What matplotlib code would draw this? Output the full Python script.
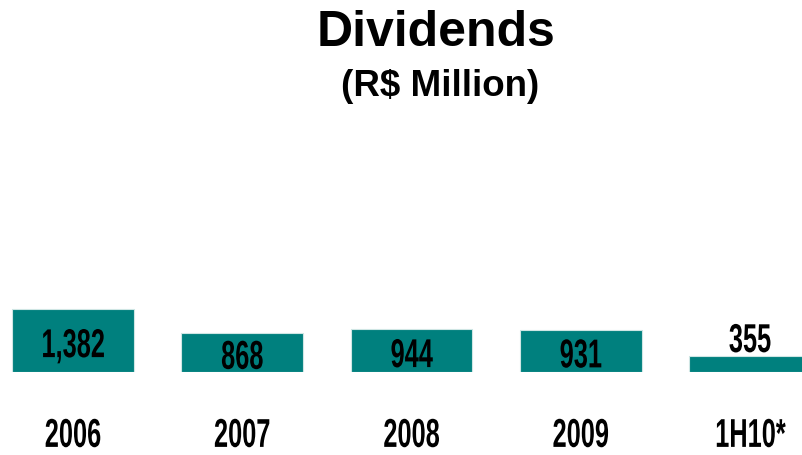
import matplotlib.pyplot as plt
from matplotlib.patheffects import AbstractPathEffect
from matplotlib.transforms import Affine2D

periods = ['2006', '2007', '2008', '2009', '1H10*']
dividends = [1382, 868, 944, 931, 355]


class Squeeze(AbstractPathEffect):
    """Draw text horizontally condensed around its own centre."""

    def __init__(self, sx):
        super().__init__()
        self.sx = sx

    def draw_path(self, renderer, gc, tpath, affine, rgbFace=None):
        ext = tpath.transformed(affine).get_extents()
        cx = (ext.x0 + ext.x1) / 2
        squeeze = Affine2D().translate(-cx, 0).scale(self.sx, 1).translate(cx, 0)
        renderer.draw_path(gc, tpath, affine + squeeze, rgbFace)


font = ['Liberation Sans', 'DejaVu Sans']
narrow = dict(fontsize=29, fontweight='bold', family=font,
              path_effects=[Squeeze(0.63)])

fig = plt.figure(figsize=(8.03, 4.55), dpi=100)
fig.patch.set_facecolor('white')

# plotting area: baseline sits at y=372px from the top
ax = fig.add_axes([0, 83 / 455, 1, 252 / 455])
x = list(range(len(periods)))
ax.bar(x, dividends, width=0.72, color='#00807e', edgecolor='#cfe6e4', linewidth=0.8)
ax.set_xlim(-0.431, 4.313)
ax.set_ylim(0, 252 / 0.0455)
ax.axis('off')

for i, v in enumerate(dividends):
    label = f'{v:,}'
    if v < 600:
        ax.annotate(label, (i, v), xytext=(0, -3), textcoords='offset points',
                    ha='center', va='bottom', **narrow)
    else:
        ax.annotate(label, (i, v / 2), xytext=(0, -4), textcoords='offset points',
                    ha='center', va='center', **narrow)
    ax.annotate(periods[i], (i, 0), xytext=(0, -46), textcoords='offset points',
                ha='center', va='center', annotation_clip=False, **narrow)

fig.text(436 / 803, 1 - 33 / 455, 'Dividends', ha='center', va='center',
         fontsize=36, fontweight='bold', family=font)
fig.text(440 / 803, 1 - 87 / 455, '(R$ Million)', ha='center', va='center',
         fontsize=26.5, fontweight='bold', family=font)

fig.savefig('out.png', dpi=100)
